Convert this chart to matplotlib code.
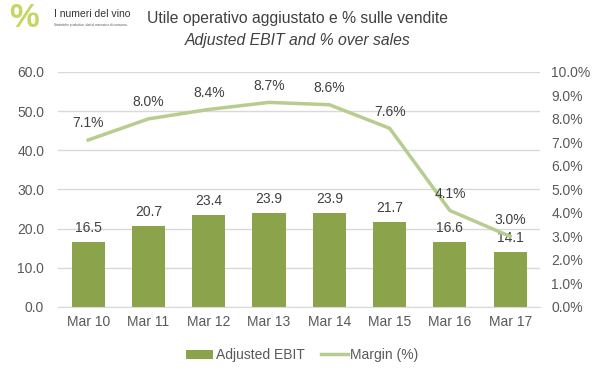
import matplotlib.pyplot as plt
from matplotlib.ticker import FuncFormatter

periods = ["Mar 10", "Mar 11", "Mar 12", "Mar 13", "Mar 14", "Mar 15", "Mar 16", "Mar 17"]
ebit = [16.5, 20.7, 23.4, 23.9, 23.9, 21.7, 16.6, 14.1]
margin = [7.1, 8.0, 8.4, 8.7, 8.6, 7.6, 4.1, 3.0]

bar_col = "#8BA34B"
line_col = "#B7CD8F"
txt = "#595959"
grid_col = "#D9D9D9"

plt.rcParams['font.family'] = ['Liberation Sans', 'DejaVu Sans']

fig = plt.figure(figsize=(5.99, 3.78), dpi=100)
ax = fig.add_axes([0.097, 0.188, 0.805, 0.622])
ax2 = ax.twinx()

x = list(range(len(periods)))
bars = ax.bar(x, ebit, width=0.55, color=bar_col, zorder=2, label="Adjusted EBIT")
ax.set_ylim(0, 60)
ax.set_yticks(range(0, 61, 10))
ax.yaxis.set_major_formatter(FuncFormatter(lambda v, p: f"{v:.1f}"))
ax.set_xlim(-0.5, len(periods) - 0.5)
ax.set_xticks(x)
ax.set_xticklabels(periods)
ax.grid(axis='y', color=grid_col, linewidth=1, zorder=0)
ax.set_axisbelow(True)

for i, v in enumerate(ebit):
    ax.annotate(f"{v:.1f}", (i, v), xytext=(0, 5), textcoords="offset points",
                ha="center", va="bottom", fontsize=10, color="#404040")

ln, = ax2.plot(x, margin, color=line_col, linewidth=2.5, zorder=3, label="Margin (%)")
ax2.set_ylim(0, 10)
ax2.set_yticks(range(0, 11))
ax2.yaxis.set_major_formatter(FuncFormatter(lambda v, p: f"{v:.1f}%"))
for i, v in enumerate(margin):
    ax2.annotate(f"{v:.1f}%", (i, v), xytext=(0, 7), textcoords="offset points",
                 ha="center", va="bottom", fontsize=10, color="#404040")

for a in (ax, ax2):
    for s in a.spines.values():
        s.set_visible(False)
    a.tick_params(length=0, labelsize=10, colors=txt)
ax.spines['bottom'].set_visible(True)
ax.spines['bottom'].set_color(grid_col)
ax.tick_params(axis='y', pad=10)
ax.tick_params(axis='x', pad=6)
ax2.tick_params(axis='y', pad=8)

fig.legend([bars, ln], ["Adjusted EBIT", "Margin (%)"], loc="center",
           bbox_to_anchor=(0.505, 0.06), ncol=2, frameon=False, fontsize=10,
           labelcolor=txt, handlelength=1.9, columnspacing=1.2, handletextpad=0.2)

fig.text(0.497, 0.952, "Utile operativo aggiustato e % sulle vendite", ha="center",
         va="center", fontsize=11.3, color="#404040")
fig.text(0.497, 0.893, "Adjusted EBIT and % over sales", ha="center", va="center",
         fontsize=11.3, color="#404040", style="italic")

# logo
fig.text(0.04, 0.95, "%", fontsize=24, color="#B8D04A", ha="center", va="center",
         fontweight="bold", alpha=0.85)
fig.text(0.09, 0.962, "I numeri del vino", fontsize=7.5, color="#333333", ha="left", va="center")
fig.text(0.09, 0.935, "Statistiche produttive, dati di mercato e di consumo.", fontsize=2.3,
         color="#555555", ha="left", va="center")

fig.savefig("out.png", dpi=100)
